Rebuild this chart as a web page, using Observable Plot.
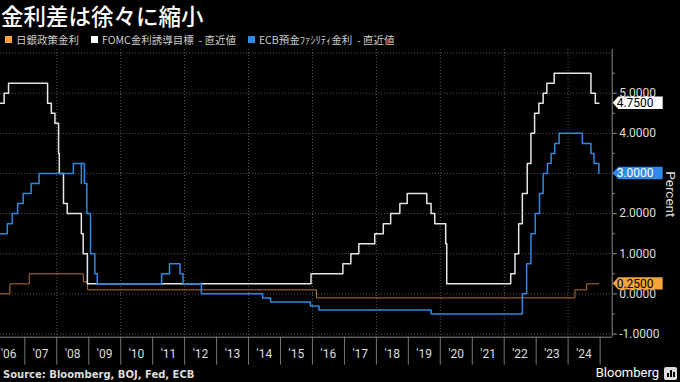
<!DOCTYPE html>
<html><head><meta charset="utf-8">
<script src="https://cdn.jsdelivr.net/npm/d3@7"></script>
<script src="https://cdn.jsdelivr.net/npm/@observablehq/plot@0.6"></script>
<style>
body{margin:0;background:#000;width:680px;height:382px;overflow:hidden;font-family:"Noto Sans CJK JP","Noto Sans",sans-serif;color:#fff}
#title{height:30px;line-height:30px;font-size:22.5px;padding-left:1px;font-weight:500;white-space:nowrap;overflow:visible}
#legend{height:18px;display:flex;align-items:center;font-size:10.5px;color:#ccc;padding-left:5px;white-space:nowrap}
.sw{display:inline-block;width:7px;height:7px;margin-right:4px}
.item{display:flex;align-items:center;margin-right:12px}
#chart svg{display:block}
#footer{height:14px;position:relative}
#src{position:absolute;left:3px;top:0;line-height:14px;font-family:"DejaVu Sans",sans-serif;font-weight:bold;font-size:10px;color:#ddd}
#bb{position:absolute;right:2px;top:-2px;line-height:14px;font-family:"Roboto",sans-serif;font-size:13px;color:#fff;display:flex;align-items:center}
</style></head>
<body>
<div id="title">金利差は徐々に縮小</div>
<div id="legend"></div>
<div id="chart"></div>
<div id="footer"><div id="src">Source: Bloomberg, BOJ, Fed, ECB</div><div id="bb">Bloomberg<svg width="14" height="13" style="margin-left:5px"><rect x="0" y="0" width="13" height="13" rx="2" fill="#ddd"/><rect x="3" y="6" width="2" height="4" fill="#000"/><rect x="6" y="3" width="2" height="7" fill="#000"/><rect x="9" y="5" width="2" height="5" fill="#000"/></svg></div></div>
<script>
// ---- data ----
const seriesNames = ["日銀政策金利", "FOMC金利誘導目標  - 直近値", "ECB預金ﾌｧｼﾘﾃｨ金利  - 直近値"];
const axisLabel = "Percent";

const bojDates = ["2006-03-29","2006-07-14","2007-02-21","2008-10-31","2008-12-19","2016-02-16","2024-03-19","2024-07-31","2024-12-18"];
const bojValues = [0.00,0.25,0.50,0.30,0.10,-0.10,0.10,0.25,0.25];

const fedDates = ["2006-03-29","2006-05-10","2006-06-29","2007-09-18","2007-10-31","2007-12-11","2008-01-22","2008-01-30","2008-03-18","2008-04-30","2008-10-08","2008-10-29","2008-12-16","2015-12-16","2016-12-14","2017-03-15","2017-06-14","2017-12-13","2018-03-21","2018-06-13","2018-09-26","2018-12-19","2019-07-31","2019-09-18","2019-10-30","2020-03-03","2020-03-15","2022-03-16","2022-05-04","2022-06-15","2022-07-27","2022-09-21","2022-11-02","2022-12-14","2023-02-01","2023-03-22","2023-05-03","2023-07-26","2024-09-18","2024-11-07","2024-12-18"];
const fedValues = [4.75,5.00,5.25,4.75,4.50,4.25,3.50,3.00,2.25,2.00,1.50,1.00,0.25,0.50,0.75,1.00,1.25,1.50,1.75,2.00,2.25,2.50,2.25,2.00,1.75,1.25,0.25,0.50,1.00,1.75,2.50,3.25,4.00,4.50,4.75,5.00,5.25,5.50,5.00,4.75,4.75];

const ecbDates = ["2006-03-29","2006-06-15","2006-08-09","2006-10-11","2006-12-13","2007-03-14","2007-06-13","2008-07-09","2008-10-08","2008-10-09","2008-11-12","2008-12-10","2009-01-21","2009-03-11","2009-04-08","2011-04-13","2011-07-13","2011-11-09","2011-12-14","2012-07-11","2014-06-11","2014-09-10","2015-12-09","2016-03-16","2019-09-18","2022-07-27","2022-09-14","2022-11-02","2022-12-21","2023-02-08","2023-03-22","2023-05-10","2023-06-21","2023-08-02","2023-09-20","2024-06-12","2024-09-18","2024-10-23","2024-12-18"];
const ecbValues = [1.50,1.75,2.00,2.25,2.50,2.75,3.00,3.25,2.75,3.25,2.75,2.00,1.00,0.50,0.25,0.50,0.75,0.50,0.25,0.00,-0.10,-0.20,-0.30,-0.40,-0.50,0.00,0.75,1.50,2.00,2.50,3.00,3.25,3.50,3.75,4.00,3.75,3.50,3.25,3.00];

const yearLabels = ["'06","'07","'08","'09","'10","'11","'12","'13","'14","'15","'16","'17","'18","'19","'20","'21","'22","'23","'24"];
const labelYears = [2006,2007,2008,2009,2010,2011,2012,2013,2014,2015,2016,2017,2018,2019,2020,2021,2022,2023,2024];
const tickYears = [2007,2008,2009,2010,2011,2012,2013,2014,2015,2016,2017,2018,2019,2020,2021,2022,2023,2024,2025];
const gridYears = [2008,2010,2012,2014,2016,2018,2020,2022,2024];
const yTicks = [-1,0,1,2,3,4,5];
const yGrid = [-1,0,1,2,3,4,5,6];
const yMinor = [-0.5,0.5,1.5,2.5,3.5,4.5,5.5];
const xDomainDates = ["2006-03-29","2025-05-19"];
const yDomain = [-1.08, 6.09];

// ---- styles ----
const colors = {boj:"#b8732e", fed:"#e6e6e6", ecb:"#2f88e4"};
const legendColors = ["#f5a33c", "#ffffff", "#2e8ae6"];
const boxStyles = [
  {fill:"#f5a33c", text:"#000"},
  {fill:"#ffffff", text:"#000"},
  {fill:"#2e8ae6", text:"#fff"}
];

// legend
const lg = document.getElementById("legend");
seriesNames.forEach((n,i)=>{
  const it = document.createElement("span"); it.className="item";
  it.innerHTML = `<span class="sw" style="background:${legendColors[i]}"></span><span style="white-space:pre">${n}</span>`;
  lg.appendChild(it);
});

const parse = d3.utcParse("%Y-%m-%d");
const mk = (dates, vals) => dates.map((d,i)=>({date:parse(d), value:vals[i]}));
const boj = mk(bojDates, bojValues), fed = mk(fedDates, fedValues), ecb = mk(ecbDates, ecbValues);
const yr = (y, m=0) => new Date(Date.UTC(y, m, 1));
const xDomain = xDomainDates.map(parse);

const tickFont = "Roboto, 'Liberation Sans', sans-serif";
const chart = Plot.plot({
  width: 680, height: 320,
  marginLeft: 0, marginRight: 68.3, marginTop: 1, marginBottom: 31.3,
  style: {background: "#000", color: "#ddd", fontFamily: tickFont, fontSize: "12px", overflow: "visible"},
  x: {type: "utc", domain: xDomain, axis: null},
  y: {domain: yDomain, axis: null},
  marks: [
    Plot.ruleY(yGrid, {stroke: "#5a5a5a", strokeDasharray: "1,2"}),
    Plot.ruleX(gridYears.map(y=>yr(y)), {stroke: "#5a5a5a", strokeDasharray: "1,2"}),
    Plot.ruleY([yDomain[0]], {stroke: "#8a8a8a"}),
    Plot.ruleX([xDomain[1]], {stroke: "#8a8a8a"}),
    Plot.axisX({ticks: tickYears.map(y=>yr(y)), tickSize: 28, tickFormat: () => "", stroke: "#777", label: null}),
    Plot.text(labelYears.map((y,i)=>({d: yr(y,6), t: yearLabels[i]})), {x: "d", text: "t", frameAnchor: "bottom", dy: 21, fill: "#ddd", fontSize: 12}),
    Plot.axisY({anchor: "right", ticks: yMinor, tickSize: 2, tickFormat: () => "", stroke: "#999", label: null}),
    Plot.axisY({anchor: "right", ticks: yTicks, tickSize: 4, tickPadding: 3, tickFormat: d => d.toFixed(4), stroke: "#999", fill: "#ddd", fontSize: 12, label: null}),
    Plot.line(boj, {x: "date", y: "value", curve: "step-after", stroke: colors.boj, strokeWidth: 1}),
    Plot.line(fed, {x: "date", y: "value", curve: "step-after", stroke: colors.fed, strokeWidth: 1.5}),
    Plot.line(ecb, {x: "date", y: "value", curve: "step-after", stroke: colors.ecb, strokeWidth: 1.5})
  ]
});
document.getElementById("chart").appendChild(chart);

const ys = chart.scale("y"), xs = chart.scale("x");
const x0 = xs.apply(xDomain[1]);
const svg = d3.select(chart);

// rotated axis label, centred on the plot's vertical middle
const yMid = (ys.apply(yDomain[0]) + ys.apply(yDomain[1])) / 2 + 1.5;
svg.append("text")
  .attr("transform", `translate(${x0 + 59},${yMid}) rotate(90)`)
  .attr("text-anchor", "middle").attr("dy", "0.35em")
  .attr("fill", "#ddd").attr("font-size", 13.5).attr("font-family", tickFont)
  .text(axisLabel);

// end-value labels
[bojValues, fedValues, ecbValues].forEach((vals, i) => {
  const v = vals[vals.length-1];
  const y = ys.apply(v);
  const g = svg.append("g");
  g.append("path")
    .attr("d", `M${x0+1},${y} L${x0+6.5},${y-6.2} H${x0+51} V${y+6.2} H${x0+6.5} Z`)
    .attr("fill", boxStyles[i].fill);
  g.append("text").attr("x", x0+5).attr("y", y).attr("dy", "0.37em")
    .attr("text-anchor", "start")
    .attr("fill", boxStyles[i].text).attr("font-size", 12).attr("font-family", tickFont)
    .text(v.toFixed(4));
});
</script>
</body></html>
